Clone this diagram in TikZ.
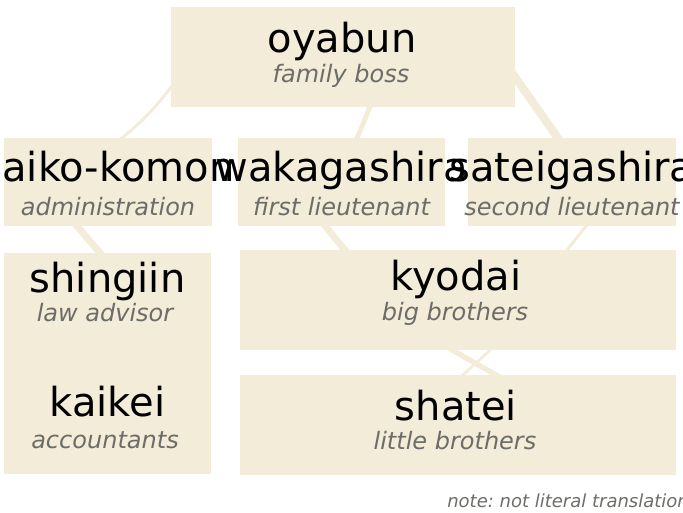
\documentclass[tikz,border=0pt]{standalone}
\usepackage{fontspec}
\setmainfont{DejaVu Sans}
\usetikzlibrary{backgrounds}
\definecolor{boxfill}{RGB}{242,236,216}
\definecolor{subgray}{RGB}{108,108,104}
\frenchspacing
\tikzset{
  box/.style={fill=boxfill, draw=none, rectangle, inner sep=0pt},
  conn/.style={draw=boxfill, line cap=butt},
  title/.style={anchor=base, inner sep=0pt, font=\fontsize{30}{36}\selectfont, text=black},
  subtitle/.style={anchor=base, inner sep=0pt, font=\fontsize{18}{22}\selectfont\itshape, text=subgray},
  notetext/.style={anchor=base west, inner sep=0pt, font=\fontsize{13.5}{16}\selectfont\itshape\frenchspacing, text=subgray}
}
\begin{document}
\begin{tikzpicture}[x=0.75pt, y=-0.75pt]
\useasboundingbox (0,0) rectangle (683,512);
% boxes
\node[box, minimum width=344*0.75pt, minimum height=100*0.75pt] (oyabun) at (343,57) {};
\node[box, minimum width=208*0.75pt, minimum height=88*0.75pt] (saiko) at (108,182) {};
\node[box, minimum width=207*0.75pt, minimum height=88*0.75pt] (waka) at (341.5,182) {};
\node[box, minimum width=208*0.75pt, minimum height=88*0.75pt] (satei) at (572,182) {};
\node[box, minimum width=207*0.75pt, minimum height=221*0.75pt] (advisors) at (107.5,363.5) {};
\node[box, minimum width=436*0.75pt, minimum height=100*0.75pt] (kyodai) at (458,300) {};
\node[box, minimum width=436*0.75pt, minimum height=100*0.75pt] (shatei) at (458,425) {};
% connectors behind the boxes
\begin{scope}[on background layer]
\draw[conn, line width=2.2pt] ([shift={(-161,15)}]oyabun.center) to[bend left=8] ([shift={(8,-39)}]saiko.center);
\draw[conn, line width=3.6pt] ([shift={(31,40)}]oyabun.center) -- ([shift={(11.5,-34)}]waka.center);
\draw[conn, line width=6.2pt] ([shift={(167,13)}]oyabun.center) -- ([shift={(-7,-34)}]satei.center);
\draw[conn, line width=5.2pt] ([shift={(-38,36)}]saiko.center) -- ([shift={(-0.5,-102.5)}]advisors.center);
\draw[conn, line width=5pt] ([shift={(-24.5,34)}]waka.center) -- ([shift={(-105,-40)}]kyodai.center);
\draw[conn, line width=2.2pt] ([shift={(22,34)}]satei.center) -- ([shift={(101,-40)}]kyodai.center);
\draw[conn, line width=4pt] ([shift={(-18,43)}]kyodai.center) -- ([shift={(52,-42)}]shatei.center);
\draw[conn, line width=2pt] ([shift={(40,43)}]kyodai.center) -- ([shift={(-4,-42)}]shatei.center);
\end{scope}
% texts
\node[title] (toyabun) at (342,52) {oyabun};
\node[subtitle] (soyabun) at (341,82) {family boss};
\node[title] (tsaiko) at (108,181) {saiko-komon};
\node[subtitle] (ssaiko) at (108,215) {administration};
\node[title] (twaka) at (341.5,181) {wakagashira};
\node[subtitle] (swaka) at (341.5,215) {first lieutenant};
\node[title] (tsatei) at (572,181) {sateigashira};
\node[subtitle] (ssatei) at (572,215) {second lieutenant};
\node[title] (tshingiin) at (107.5,292) {shingiin};
\node[subtitle] (sshingiin) at (105,321) {law advisor};
\node[title] (tkaikei) at (107.5,416) {kaikei};
\node[subtitle] (skaikei) at (105,448) {accountants};
\node[title] (tkyodai) at (456,290) {kyodai};
\node[subtitle] (skyodai) at (455,320) {big brothers};
\node[title] (tshatei) at (456,420) {shatei};
\node[subtitle] (sshatei) at (455,449) {little brothers};
\node[notetext] (note) at (447,507) {note: not literal translation};
\end{tikzpicture}
\end{document}
